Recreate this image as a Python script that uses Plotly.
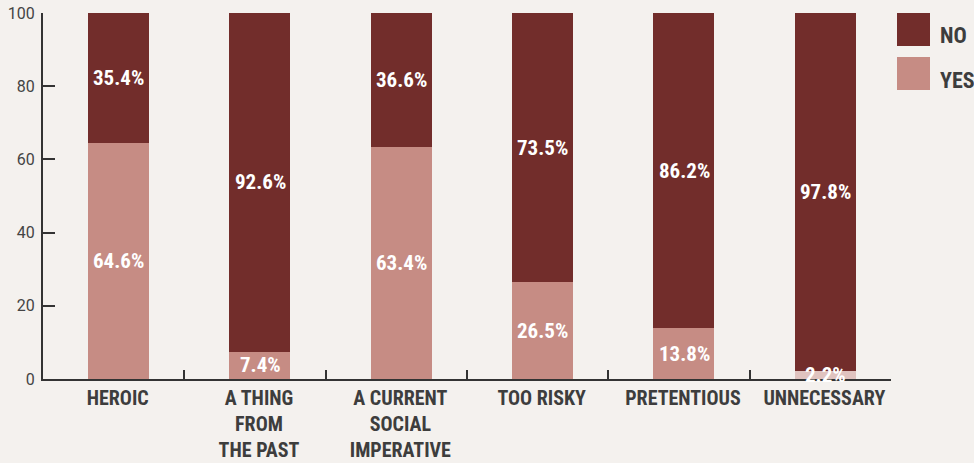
import plotly.graph_objects as go

categories = ["HEROIC", "A THING<br>FROM<br>THE PAST", "A CURRENT<br>SOCIAL<br>IMPERATIVE",
              "TOO RISKY", "PRETENTIOUS", "UNNECESSARY"]
yes_values = [64.6, 7.4, 63.4, 26.5, 13.8, 2.2]
no_values = [35.4, 92.6, 36.6, 73.5, 86.2, 97.8]
y_ticks = [0, 20, 40, 60, 80, 100]

NO_COLOR = "#722d2b"
YES_COLOR = "#c68c84"
YES_COLORS = [YES_COLOR] * 5 + ["#e0c3bf"]
BG = "#f4f1ee"
INK = "#3d3d3d"
COND = "Roboto Condensed, sans-serif"

BAR_W = 0.432
BAR_SHIFT = 0.035  # bars sit slightly right of the category centre

fig = go.Figure()
fig.add_trace(go.Bar(x=categories, y=yes_values, name="YES", marker_color=YES_COLORS,
                     marker_line_width=0, width=BAR_W, offset=-BAR_W / 2 + BAR_SHIFT,
                     showlegend=False))
fig.add_trace(go.Bar(x=categories, y=no_values, name="NO", marker_color=NO_COLOR,
                     marker_line_width=0, width=BAR_W, offset=-BAR_W / 2 + BAR_SHIFT,
                     showlegend=False))

# percentage labels centred in each segment
for cat, yv, nv in zip(categories, yes_values, no_values):
    for y, v in ((yv / 2, yv), (yv + nv / 2, nv)):
        fig.add_annotation(x=cat, y=y, text=f"{v:.1f}%", showarrow=False, xshift=5,
                           font=dict(family=COND, size=21, color="white", weight="bold"))

# legend swatches
legend_items = [("NO", NO_COLOR), ("YES", YES_COLOR)]
for i, (label, color) in enumerate(legend_items):
    top = 13 + i * 44
    fig.add_shape(type="rect", xref="paper", yref="paper",
                  x0=(897 - 43) / 848, x1=(930 - 43) / 848,
                  y0=1 - (top + 33 - 13) / 366, y1=1 - (top - 13) / 366,
                  fillcolor=color, line_width=0)
    fig.add_annotation(xref="paper", yref="paper", x=(938 - 43) / 848,
                       y=1 - (top + 23 - 13) / 366, text=label, showarrow=False,
                       xanchor="left", yanchor="middle",
                       font=dict(family=COND, size=22, color=INK, weight="bold"))

fig.update_layout(
    barmode="stack",
    width=974, height=463,
    margin=dict(l=43, r=83, t=13, b=84),
    paper_bgcolor=BG, plot_bgcolor=BG,
    xaxis=dict(range=[-0.5, 5.5], showline=True, linecolor="#333", linewidth=2,
               ticks="inside", ticklen=9, tickwidth=2, tickcolor="#333",
               tickson="boundaries", showgrid=False, zeroline=False,
               tickangle=0, automargin=False, ticklabelshift=4, ticklabelstandoff=0,
               tickfont=dict(family=COND, size=20, color=INK, weight="bold")),
    yaxis=dict(range=[0, 100], tickvals=y_ticks, showline=True, linecolor="#333",
               linewidth=2, ticks="inside", ticklen=12, tickwidth=2, tickcolor="#333",
               showgrid=False, zeroline=False, automargin=False, ticklabelstandoff=3,
               tickfont=dict(family="Roboto, sans-serif", size=16, color="#444")),
)

fig.write_html("out.html")
